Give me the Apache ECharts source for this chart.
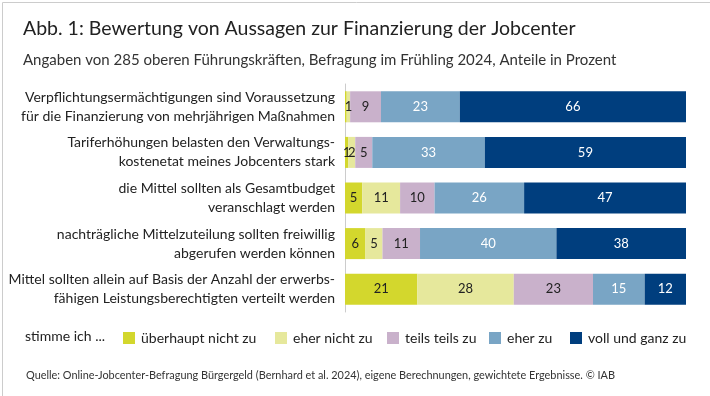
<!DOCTYPE html>
<html>
<head>
<meta charset="utf-8">
<script src="https://cdn.jsdelivr.net/npm/echarts@6/dist/echarts.min.js"></script>
<style>
  html, body { margin: 0; padding: 0; background: #fff; }
  #chart { width: 710px; height: 396px; }
</style>
</head>
<body>
<div id="chart"></div>
<script>
var FONT = 'Lato, "Open Sans", sans-serif';

// Aussagen (von oben nach unten)
var categories = [
    'Verpflichtungsermächtigungen sind Voraussetzung\nfür die Finanzierung von mehrjährigen Maßnahmen',
    'Tariferhöhungen belasten den Verwaltungs-\nkostenetat meines Jobcenters stark',
    'die Mittel sollten als Gesamtbudget\nveranschlagt werden',
    'nachträgliche Mittelzuteilung sollten freiwillig\nabgerufen werden können',
    'Mittel sollten allein auf Basis der Anzahl der erwerbs-\nfähigen Leistungsberechtigten verteilt werden'
];
var seriesNames = ['überhaupt nicht zu', 'eher nicht zu', 'teils teils zu', 'eher zu', 'voll und ganz zu'];
var colors = ['#d3d72d', '#e6e89c', '#c9b1cb', '#79a5c5', '#003e7e'];
var labelColors = ['#222', '#222', '#222', '#fff', '#fff'];
var legendLeft = [123, 275, 387, 489, 570];

// Anteile in Prozent (gerundet, wie im Bild)
var ueberhauptNicht = [0.5, 1, 5, 6, 21];
var eherNicht = [1, 2, 11, 5, 28];
var teilsTeils = [9, 5, 10, 11, 23];
var eherZu = [23, 33, 26, 40, 15];
var vollUndGanz = [66, 59, 47, 38, 12];
var values = [ueberhauptNicht, eherNicht, teilsTeils, eherZu, vollUndGanz];

// Zeilensummen, damit jeder Balken volle 100 % breit ist
var rowTotals = [];
for (var r = 0; r < categories.length; r++) {
    var t = 0;
    for (var k = 0; k < values.length; k++) t += values[k][r];
    rowTotals.push(t);
}

var chart = echarts.init(document.getElementById('chart'));

var series = [];
var legends = [];
for (var s = 0; s < seriesNames.length; s++) {
    var data = [];
    for (var i = 0; i < values[s].length; i++) {
        data.push({ value: values[s][i] / rowTotals[i] * 100, raw: values[s][i] });
    }
    series.push({
        name: seriesNames[s],
        type: 'bar',
        stack: 'total',
        barCategoryGap: '32%',
        data: data,
        itemStyle: { color: colors[s] },
        label: {
            show: true,
            color: labelColors[s],
            fontFamily: FONT,
            fontSize: 13,
            formatter: function (p) {
                return p.data.raw < 1 ? '' : String(p.data.raw);
            }
        },
        emphasis: { disabled: true }
    });
    legends.push({
        left: legendLeft[s],
        top: 331,
        padding: 0,
        itemWidth: 12,
        itemHeight: 12,
        icon: 'rect',
        selectedMode: false,
        data: [seriesNames[s]],
        textStyle: { fontSize: 14, color: '#222', fontFamily: FONT, padding: [0, 0, 0, 1] }
    });
}

var option = {
    animation: false,
    textStyle: { fontFamily: FONT },
    title: [{
        text: 'Abb. 1: Bewertung von Aussagen zur Finanzierung der Jobcenter',
        left: 18,
        top: 14,
        textStyle: { fontSize: 19.5, fontWeight: 'normal', color: '#222', fontFamily: FONT }
    }, {
        text: 'Angaben von 285 oberen Führungskräften, Befragung im Frühling 2024, Anteile in Prozent',
        left: 18,
        top: 48,
        textStyle: { fontSize: 15, fontWeight: 'normal', color: '#333', fontFamily: FONT }
    }, {
        text: 'Quelle: Online-Jobcenter-Befragung Bürgergeld (Bernhard et al. 2024), eigene Berechnungen, gewichtete Ergebnisse. © IAB',
        left: 21,
        top: 365,
        textStyle: { fontSize: 10.9, fontWeight: 'normal', color: '#333', fontFamily: FONT }
    }],
    legend: legends,
    graphic: [{
        type: 'rect',
        left: 0,
        top: 0,
        shape: { width: 709, height: 395 },
        style: { fill: 'none', stroke: '#cccccc', lineWidth: 1 },
        silent: true
    }, {
        type: 'text',
        left: 25,
        top: 329,
        style: { text: 'stimme ich ...', fontSize: 14, fill: '#222', fontFamily: FONT }
    }],
    grid: { left: 345, right: 24, top: 84, height: 228, containLabel: false },
    xAxis: {
        type: 'value',
        min: 0,
        max: 100,
        show: false
    },
    yAxis: {
        type: 'category',
        inverse: true,
        data: categories,
        axisTick: { show: false },
        axisLine: { show: true, lineStyle: { color: '#cccccc', width: 1 } },
        axisLabel: {
            margin: 10,
            fontSize: 14,
            lineHeight: 19,
            color: '#222',
            align: 'right',
            fontFamily: FONT
        }
    },
    series: series
};

chart.setOption(option);
</script>
</body>
</html>
